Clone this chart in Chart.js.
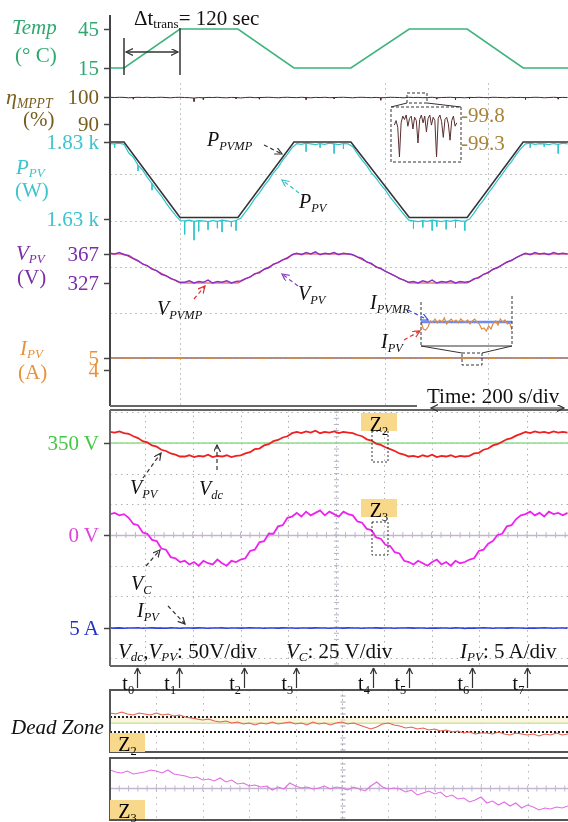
<!DOCTYPE html>
<html>
<head>
<meta charset="utf-8">
<script src="https://cdn.jsdelivr.net/npm/chart.js@4.4.1/dist/chart.umd.min.js"></script>
<style>
body { margin: 0; background: #fff; }
#page { position: relative; width: 568px; height: 822px; overflow: hidden; font-family: "Liberation Serif", "Times New Roman", serif; }
canvas { position: absolute; }
svg { position: absolute; left: 0; top: 0; }
.lb { position: absolute; white-space: nowrap; font-size: 20px; line-height: 1; transform: translateY(-50%); }
.lb.r { transform: translate(-100%, -50%); }
.lb sub, .zb sub { font-size: 0.62em; vertical-align: -0.3em; line-height: 0; }
.it { font-style: italic; }
.zb { position: absolute; background: #f8d98c; font-size: 20px; line-height: 1; text-align: center; padding-top: 1px; box-sizing: border-box; }
</style>
</head>
<body>
<div id="page">
<canvas id="topChart" width="568" height="410" style="left:0;top:0"></canvas>
<canvas id="etaInset" width="130" height="70" style="left:385px;top:100px"></canvas>
<canvas id="iInset" width="110" height="58" style="left:415px;top:295px"></canvas>
<canvas id="scopeChart" width="568" height="290" style="left:0;top:405px"></canvas>
<canvas id="z2Chart" width="568" height="70" style="left:0;top:686px"></canvas>
<canvas id="z3Chart" width="568" height="70" style="left:0;top:754px"></canvas>

<svg width="568" height="822">
  <defs>
    <marker id="aK" markerUnits="userSpaceOnUse" markerWidth="9" markerHeight="9" refX="7" refY="3.5" orient="auto-start-reverse"><path d="M0,0 L7,3.5 L0,7" fill="none" stroke="#333" stroke-width="1.2"/></marker>
    <marker id="aC" markerUnits="userSpaceOnUse" markerWidth="9" markerHeight="9" refX="7" refY="3.5" orient="auto"><path d="M0,0 L7,3.5 L0,7" fill="none" stroke="#33c2cc" stroke-width="1.2"/></marker>
    <marker id="aP" markerUnits="userSpaceOnUse" markerWidth="9" markerHeight="9" refX="7" refY="3.5" orient="auto"><path d="M0,0 L7,3.5 L0,7" fill="none" stroke="#8a3fc0" stroke-width="1.2"/></marker>
    <marker id="aR" markerUnits="userSpaceOnUse" markerWidth="9" markerHeight="9" refX="7" refY="3.5" orient="auto"><path d="M0,0 L7,3.5 L0,7" fill="none" stroke="#e03030" stroke-width="1.2"/></marker>
    <marker id="aB" markerUnits="userSpaceOnUse" markerWidth="9" markerHeight="9" refX="7" refY="3.5" orient="auto"><path d="M0,0 L7,3.5 L0,7" fill="none" stroke="#3050e0" stroke-width="1.2"/></marker>
  </defs>
  <!-- delta t -->
  <g stroke="#333" stroke-width="1.5" fill="none">
    <line x1="124" y1="38" x2="124" y2="75"/>
    <line x1="180" y1="28" x2="180" y2="75"/>
    <line x1="126" y1="52" x2="178" y2="52" marker-start="url(#aK)" marker-end="url(#aK)"/>
  </g>
  <!-- eta zoom -->
  <g stroke="#333" stroke-width="1" fill="none">
    <rect x="407" y="93" width="20" height="10" stroke-dasharray="3 2"/>
    <line x1="407" y1="103" x2="391" y2="107"/>
    <line x1="427" y1="103" x2="461" y2="107"/>
    <rect x="391" y="107" width="70" height="55" stroke-dasharray="3 2"/>
  </g>
  <!-- I zoom -->
  <g stroke="#333" stroke-width="1" fill="none">
    <line x1="421" y1="302" x2="421" y2="346" stroke-dasharray="3 2"/>
    <line x1="512" y1="296" x2="512" y2="346" stroke-dasharray="3 2"/>
    <line x1="421" y1="346" x2="512" y2="346"/>
    <line x1="421" y1="346" x2="462" y2="353"/>
    <line x1="512" y1="346" x2="482" y2="353"/>
    <rect x="462" y="353" width="20" height="12" stroke-dasharray="3 2"/>
  </g>
  <!-- top annotations -->
  <g stroke-width="1.2" fill="none" stroke-dasharray="4 3">
    <line x1="264" y1="145" x2="282" y2="154" stroke="#333" marker-end="url(#aK)"/>
    <line x1="299" y1="193" x2="282" y2="180" stroke="#33c2cc" marker-end="url(#aC)"/>
    <line x1="298" y1="286" x2="282" y2="274" stroke="#8a3fc0" marker-end="url(#aP)"/>
    <line x1="194" y1="299" x2="205" y2="286" stroke="#e03030" marker-end="url(#aR)"/>
    <line x1="408" y1="310" x2="428" y2="320" stroke="#3050e0" marker-end="url(#aB)"/>
    <line x1="404" y1="340" x2="420" y2="331" stroke="#e03030" marker-end="url(#aR)"/>
  </g>
  <line x1="431" y1="408" x2="564" y2="408" stroke="#333" stroke-width="1.2" marker-start="url(#aK)" marker-end="url(#aK)"/>
  <!-- scope annotations -->
  <g stroke="#333" stroke-width="1.2" fill="none" stroke-dasharray="4 3">
    <line x1="143" y1="478" x2="161" y2="453" marker-end="url(#aK)"/>
    <line x1="217" y1="470" x2="217" y2="445" marker-end="url(#aK)"/>
    <line x1="146" y1="566" x2="160" y2="550" marker-end="url(#aK)"/>
    <line x1="168" y1="606" x2="185" y2="624" marker-end="url(#aK)"/>
  </g>
  <g stroke="#333" stroke-width="1" fill="none" stroke-dasharray="2 2">
    <rect x="372" y="431" width="16" height="31"/>
    <rect x="372" y="522" width="16" height="33"/>
  </g>
</svg>

<div class="lb it" style="left:12px;top:27px;color:#2ea86e;font-size:21px">Temp</div>
<div class="lb" style="left:15px;top:55px;color:#2ea86e;font-size:21px">(° C)</div>
<div class="lb it" style="left:6px;top:97px;color:#7a5c1e;font-size:22px">η<sub>MPPT</sub></div>
<div class="lb" style="left:23px;top:119px;color:#7a5c1e;font-size:21px">(%)</div>
<div class="lb it" style="left:16px;top:167px;color:#3cc4cc;font-size:21px">P<sub>PV</sub></div>
<div class="lb" style="left:15px;top:190px;color:#3cc4cc;font-size:21px">(W)</div>
<div class="lb it" style="left:16px;top:253px;color:#7a2fa8;font-size:21px">V<sub>PV</sub></div>
<div class="lb" style="left:17px;top:277px;color:#7a2fa8;font-size:21px">(V)</div>
<div class="lb it" style="left:20px;top:348px;color:#e8923a;font-size:21px">I<sub>PV</sub></div>
<div class="lb" style="left:18px;top:372px;color:#e8923a;font-size:21px">(A)</div>

<div class="lb" style="left:134px;top:18px;color:#111;font-size:21px">Δt<sub>trans</sub>= 120 sec</div>
<div class="lb" style="left:461px;top:115px;color:#a8843a;font-size:21px">-99.8</div>
<div class="lb" style="left:461px;top:143px;color:#a8843a;font-size:21px">-99.3</div>
<div class="lb it" style="left:207px;top:139px;color:#111">P<sub>PVMP</sub></div>
<div class="lb it" style="left:299px;top:201px;color:#111">P<sub>PV</sub></div>
<div class="lb it" style="left:298px;top:293px;color:#111">V<sub>PV</sub></div>
<div class="lb it" style="left:157px;top:308px;color:#111">V<sub>PVMP</sub></div>
<div class="lb it" style="left:370px;top:302px;color:#111">I<sub>PVMR</sub></div>
<div class="lb it" style="left:381px;top:341px;color:#111">I<sub>PV</sub></div>
<div class="lb" style="left:427px;top:396px;color:#111;font-size:21px">Time: 200 s/div</div>

<div class="lb it" style="left:130px;top:487px;color:#111">V<sub>PV</sub></div>
<div class="lb it" style="left:199px;top:488px;color:#111">V<sub>dc</sub></div>
<div class="lb it" style="left:131px;top:583px;color:#111">V<sub>C</sub></div>
<div class="lb it" style="left:137px;top:610px;color:#111">I<sub>PV</sub></div>
<div class="lb" style="left:118px;top:651px;color:#111;font-size:21px"><i>V<sub>dc</sub></i>,<i>V<sub>PV</sub></i>: 50V/div</div>
<div class="lb" style="left:286px;top:651px;color:#111;font-size:21px"><i>V<sub>C</sub></i>: 25 V/div</div>
<div class="lb" style="left:460px;top:651px;color:#111;font-size:21px"><i>I<sub>PV</sub></i>: 5 A/div</div>
<div class="zb" style="left:361px;top:413px;width:36px;height:18px">Z<sub>2</sub></div>
<div class="zb" style="left:361px;top:499px;width:36px;height:18px">Z<sub>3</sub></div>

<div class="lb it" style="left:11px;top:727px;color:#111;font-size:21px">Dead Zone</div>
<div class="zb" style="left:110px;top:733px;width:35px;height:19px">Z<sub>2</sub></div>
<div class="zb" style="left:110px;top:800px;width:35px;height:19px">Z<sub>3</sub></div>
</div>

<script>
/* ================= DATA ================= */
var STEP = 10;          // s between samples of the recorded traces
var TIME_END = 981;     // s shown across the top panel and scope

// temperature profile and its MPP references (corner points)
var profileT = [0, 30, 150, 274, 394, 516, 641, 765, 885, 981];
var tempV = [15, 15, 45, 45, 15, 15, 45, 45, 15, 15];
var pmpV = [1830, 1830, 1634, 1634, 1830, 1830, 1634, 1634, 1830, 1830];
var vmpV = [367, 367, 327, 327, 367, 367, 327, 327, 367, 367];

// tracking efficiency (%) every 10 s, plus its dips
var etaV = [99.9, 99.8, 99.9, 99.85, 99.7, 99.8, 99.9, 99.8, 99.9, 99.75,
    99.85, 99.9, 99.8, 99.7, 99.85, 99.9, 99.8, 99.75, 99.6, 99.8,
    99.7, 99.85, 99.8, 99.9, 99.75, 99.7, 99.85, 99.8, 99.65, 99.8,
    99.9, 99.75, 99.8, 99.85, 99.9, 99.8, 99.7, 99.85, 99.9, 99.8,
    99.75, 99.9, 99.8, 99.7, 99.85, 99.8, 99.9, 99.75, 99.8, 99.85,
    99.9, 99.8, 99.7, 99.85, 99.9, 99.8, 99.75, 99.85, 99.7, 99.8,
    99.9, 99.85, 99.8, 99.7, 99.9, 99.8, 99.85, 99.75, 99.8, 99.9,
    99.7, 99.8, 99.85, 99.9, 99.75, 99.8, 99.7, 99.85, 99.8, 99.9,
    99.8, 99.75, 99.9, 99.85, 99.8, 99.7, 99.9, 99.8, 99.85, 99.75,
    99.8, 99.9, 99.85, 99.7, 99.8, 99.9, 99.8, 99.85, 99.8];
var etaDipT = [50, 180, 200, 270, 320, 420, 480, 580, 700, 740, 770, 890, 960];
var etaDipV = [99.2, 98.3, 99.0, 99.3, 99.2, 99.0, 99.3, 98.8, 99.2, 99.0, 99.3, 99.1, 99.2];

// PV power (W) every 10 s, plus its dips
var ppvV = [1826, 1825, 1827, 1824,
    1802, 1790, 1770, 1757, 1738, 1722, 1705, 1690, 1672, 1655, 1640, 1626,
    1625, 1627, 1624, 1626, 1625, 1623, 1626, 1624, 1627, 1625, 1623, 1626,
    1632, 1648, 1664, 1683, 1698, 1716, 1731, 1750, 1764, 1783, 1798, 1815,
    1826, 1824, 1827, 1825, 1823, 1826, 1824, 1827, 1825, 1823, 1826, 1825,
    1818, 1800, 1783, 1768, 1750, 1736, 1719, 1705, 1687, 1672, 1656, 1641, 1627,
    1625, 1623, 1626, 1624, 1627, 1625, 1623, 1626, 1624, 1627, 1625, 1624,
    1630, 1646, 1664, 1679, 1697, 1713, 1730, 1746, 1764, 1779, 1797, 1813,
    1825, 1827, 1824, 1826, 1825, 1823, 1826, 1824, 1827, 1825];
var ppvDipT = [10, 60, 90, 160, 180, 190, 210, 230, 240, 260, 270, 420, 450, 480, 500, 650, 670, 690, 700, 720, 740, 760, 900, 930, 960];
var ppvDipV = [1815, 1755, 1705, 1590, 1575, 1598, 1602, 1606, 1596, 1610, 1600, 1805, 1815, 1800, 1812, 1605, 1608, 1600, 1610, 1603, 1607, 1600, 1815, 1818, 1800];

// PV voltage (V) every 10 s
var vpvV = [368, 367, 369, 366,
    365, 361, 358, 353, 351, 346, 344, 339, 337, 333, 331, 328,
    328, 330, 327, 329, 328, 331, 327, 329, 328, 330, 327, 329,
    330, 333, 335, 340, 341, 346, 348, 353, 355, 359, 361, 366,
    368, 366, 369, 367, 370, 366, 368, 367, 369, 366, 368, 367,
    366, 363, 361, 356, 354, 349, 347, 343, 340, 337, 333, 331, 328,
    329, 327, 330, 328, 331, 327, 329, 328, 330, 327, 329, 328,
    329, 333, 334, 339, 341, 346, 348, 352, 356, 358, 362, 365,
    368, 366, 369, 367, 368, 366, 369, 367, 368, 367];

// PV current (A) every 10 s
var ipvV = [5.0, 4.98, 5.02, 4.97, 5.01, 4.99, 5.03, 4.96, 5.0, 5.02,
    4.98, 5.01, 4.97, 5.02, 4.99, 4.95, 5.01, 5.0, 4.98, 5.02,
    5.0, 4.97, 5.01, 4.99, 5.02, 4.96, 5.0, 5.01, 4.98, 5.0,
    5.02, 4.99, 5.0, 4.97, 5.01, 5.0, 4.98, 5.02, 4.99, 5.0,
    4.97, 5.01, 5.0, 4.98, 5.02, 4.99, 5.0, 4.96, 5.01, 5.0,
    4.98, 5.02, 4.99, 5.0, 4.97, 5.01, 4.99, 5.02, 4.98, 5.0,
    5.01, 4.97, 5.0, 4.99, 5.02, 4.98, 5.0, 5.01, 4.96, 5.0,
    4.98, 5.01, 4.99, 4.97, 5.02, 5.0, 4.94, 5.01, 4.98, 5.0,
    5.02, 4.99, 4.97, 5.01, 5.0, 4.98, 5.02, 4.99, 5.0, 4.97,
    5.01, 4.98, 5.0, 5.02, 4.99, 4.96, 5.01, 5.0, 4.98];
var ipvRef = 5;

// capacitor voltage (V) every 10 s, dc link reference
var vcV = [17, 18, 16, 17,
    14, 9, 8, 2, 1, -4, -5, -11, -12, -18, -19, -22,
    -21, -24, -22, -25, -21, -23, -24, -20, -23, -25, -21, -22,
    -20, -19, -13, -12, -6, -5, 1, 1, 7, 8, 14, 15,
    18, 15, 19, 16, 18, 20, 16, 19, 17, 15, 19, 17,
    16, 11, 10, 5, 4, -2, -3, -8, -9, -14, -15, -21, -22,
    -24, -21, -23, -25, -22, -20, -24, -22, -25, -21, -23, -22,
    -20, -19, -13, -12, -7, -5, 0, 1, 7, 8, 13, 16,
    17, 19, 16, 18, 15, 19, 17, 18, 16, 18];
var vdcRef = 350;

// zoomed windows
var etaZoom = [99.62, 99.70, 99.58, 99.05, 99.66, 99.78, 99.72, 99.80, 99.60, 99.74,
    99.78, 99.55, 99.76, 99.70, 99.30, 99.72, 99.80, 99.66, 99.78, 99.50,
    99.74, 99.80, 99.62, 99.76, 99.70, 99.05, 99.74, 99.80, 99.68, 99.40,
    99.72, 99.76, 99.64, 99.35, 99.70, 99.78, 99.60, 99.66];
var ipvZoom = [5.00, 4.93, 4.92, 4.95, 5.01, 5.00, 5.03, 4.99, 5.02, 5.00,
    5.04, 4.98, 5.01, 5.03, 5.00, 5.02, 4.99, 5.03, 5.01, 5.00,
    5.02, 4.98, 5.01, 5.03, 5.00, 4.98, 4.93, 4.94, 4.91, 4.96,
    4.93, 4.99, 5.01, 4.97, 5.03, 5.00, 5.02, 4.98, 4.99, 4.92];
var z2V = [360, 359, 361, 359, 358, 360, 359, 358, 360, 358, 359, 357, 358,
    356, 355, 354, 353, 354, 352, 351, 352, 350,
    351, 349, 350, 348, 350, 349, 351, 349, 350,
    351, 349, 350, 348, 351, 349, 350, 348, 350, 351, 349, 350, 348,
    346, 344, 346, 349, 350,
    348, 347, 345, 346, 344, 345, 343, 344, 342,
    343, 341, 342, 340, 341, 339, 340,
    340, 339, 341, 339, 338, 340, 339, 338, 339, 337, 339, 338, 340, 338, 339];
var deadZone = [356, 341];
var z3V = [18, 16, 15, 17, 14, 15, 16, 18, 17, 15, 18, 14, 13, 12, 10, 11, 8, 9, 7, 10,
    6, 8, 4, 5, 2, 3, 1, 2, -2, 1, -1, 5, 2, 0, 1, -1, 0, 2, -1, 1,
    0, -2, 1, -1, -3, 2, 6, 1, -1, 0, -1, -4, -2, -7, -5, -3, -6, -4, -9, -7,
    -11, -10, -14, -12, -9, -15, -13, -17, -14, -18, -15, -20, -17, -19, -22, -20, -21, -19, -20, -18];

// event instants t0..t7 (s)
var tMarks = [58, 148, 287, 399, 563, 641, 776, 894];

// tick labels
var tempTicks = [45, 15];
var etaTicks = [100, 90];
var pTicks = [1830, 1630], pTickText = ["1.83 k", "1.63 k"];
var vTicks = [367, 327];
var iTicks = [5, 4];

/* ================= LAYOUT / STYLE ================= */
var TOP_GRID_T = [150, 589, 810];
var TOP_GRID_Y = [174, 221, 267, 313, 358];
var SCOPE_CX = 336, SCOPE_DX = 47.75, SCOPE_DY = 30.7;
var Z_DX = 46.4;

/* ================= HELPERS ================= */
function xy(vals, step) {
    return vals.map(function (v, i) { return { x: i * step, y: v }; });
}
function zip(xs, ys) {
    return xs.map(function (x, i) { return { x: x, y: ys[i] }; });
}
function spikes(ts, lows, base) {
    var out = [];
    ts.forEach(function (t, i) {
        out.push({ x: t, y: base[t / STEP] }, { x: t, y: lows[i] }, { x: t, y: null });
    });
    return out;
}
function flat(v, x0, x1) { return [{ x: x0, y: v }, { x: x1, y: v }]; }
// axis range so that value v1 sits at page pixel p1 and v2 at p2
function span(v1, p1, v2, p2, top, bottom) {
    var k = (p2 - p1) / (v2 - v1);
    return { type: "linear", display: false, min: v1 + (bottom - p1) / k, max: v1 + (top - p1) / k };
}
function xr(min, max) { return { type: "linear", display: false, min: min, max: max }; }
function ds(data, color, width, axis, extra) {
    var d = { data: data, borderColor: color, borderWidth: width, yAxisID: axis, pointRadius: 0, fill: false, tension: 0, spanGaps: false };
    if (extra) for (var k in extra) d[k] = extra[k];
    return d;
}
function opts(padding, scales) {
    return {
        responsive: false, animation: false, events: [],
        layout: { padding: padding },
        plugins: { legend: { display: false }, tooltip: { enabled: false } },
        scales: scales
    };
}
function seg(c, x1, y1, x2, y2) {
    c.beginPath(); c.moveTo(x1, y1); c.lineTo(x2, y2); c.stroke();
}
var page = document.getElementById("page");
function putText(html, x, y, color, cls, size) {
    var d = document.createElement("div");
    d.className = "lb " + (cls || "");
    d.style.left = x + "px";
    d.style.top = y + "px";
    d.style.color = color;
    if (size) d.style.fontSize = size + "px";
    d.innerHTML = html;
    page.appendChild(d);
}

/* ================= TOP PANEL ================= */
var topTickSets = [
    { axis: "yT", v: tempTicks }, { axis: "yE", v: etaTicks }, { axis: "yP", v: pTicks },
    { axis: "yV", v: vTicks }, { axis: "yI", v: iTicks }
];
var topDecor = {
    id: "topDecor",
    beforeDatasetsDraw: function (chart) {
        var c = chart.ctx, a = chart.chartArea, x = chart.scales.x;
        c.save();
        c.strokeStyle = "#c4c4c4"; c.lineWidth = 1; c.setLineDash([2, 3]);
        TOP_GRID_T.forEach(function (t) {
            var px = Math.round(x.getPixelForValue(t)) + 0.5;
            seg(c, px, 83, px, a.bottom);
        });
        TOP_GRID_Y.forEach(function (py) { seg(c, a.left, py + 0.5, a.right, py + 0.5); });
        c.restore();
    },
    afterDraw: function (chart) {
        var c = chart.ctx, a = chart.chartArea;
        c.save();
        c.strokeStyle = "#444"; c.lineWidth = 2;
        seg(c, a.left, a.top, a.left, a.bottom);
        c.strokeStyle = "#666";
        seg(c, a.left, a.bottom, 417, a.bottom);
        c.lineWidth = 1.5; c.strokeStyle = "#444";
        topTickSets.forEach(function (s) {
            s.v.forEach(function (v) {
                var py = Math.round(chart.scales[s.axis].getPixelForValue(v)) + 0.5;
                seg(c, a.left - 6, py, a.left, py);
            });
        });
        c.restore();
    }
};
var TOP = { top: 15, bottom: 406 };
var topChart = new Chart(document.getElementById("topChart"), {
    type: "line",
    data: {
        datasets: [
            ds(zip(profileT, tempV), "#3db37d", 1.6, "yT"),
            ds(spikes(etaDipT, etaDipV, etaV), "#4a2424", 1, "yE"),
            ds(xy(etaV, STEP), "#4a2424", 1, "yE"),
            ds(zip(profileT, pmpV), "#333333", 1.6, "yP"),
            ds(spikes(ppvDipT, ppvDipV, ppvV), "#2ec4cc", 1, "yP"),
            ds(xy(ppvV, STEP), "#2ec4cc", 1.2, "yP"),
            ds(xy(vpvV, STEP), "#8a2fc8", 1.4, "yV"),
            ds(zip(profileT, vmpV), "#e23a3a", 1.2, "yV"),
            ds(xy(ipvV, STEP), "#e38a30", 1.2, "yI"),
            ds(flat(ipvRef, 0, TIME_END), "#4a6ef0", 1.6, "yI")
        ]
    },
    options: opts({ left: 110, top: 15, right: 0, bottom: 4 }, {
        x: xr(0, TIME_END),
        yT: span(15, 68, 45, 29, TOP.top, TOP.bottom),
        yE: span(100, 97, 90, 124, TOP.top, TOP.bottom),
        yP: span(1830, 142, 1630, 219, TOP.top, TOP.bottom),
        yV: span(367, 254, 327, 283, TOP.top, TOP.bottom),
        yI: span(5, 358, 4, 370, TOP.top, TOP.bottom)
    }),
    plugins: [topDecor]
});

/* ================= INSETS ================= */
new Chart(document.getElementById("etaInset"), {
    type: "line",
    data: { datasets: [ds(xy(etaZoom, 1), "#5a2e2e", 1, "y")] },
    options: opts({ left: 6, top: 7, right: 54, bottom: 8 }, {
        x: xr(-2, 39.5),
        y: span(99.8, 115, 99.3, 143, 107, 162)
    })
});
new Chart(document.getElementById("iInset"), {
    type: "line",
    data: {
        datasets: [
            ds(xy(ipvZoom, 1), "#e08a3a", 1.2, "y"),
            ds(flat(ipvRef, 0, ipvZoom.length - 1), "#6a8cf2", 2.5, "y")
        ]
    },
    options: opts({ left: 6, top: 7, right: 13, bottom: 7 }, {
        x: xr(0, ipvZoom.length - 1),
        y: span(5, 322, 5.1, 312, 302, 346)
    })
});

/* ================= SCOPE ================= */
var scopeDecor = {
    id: "scopeDecor",
    beforeDatasetsDraw: function (chart) {
        var c = chart.ctx, a = chart.chartArea;
        var cy = chart.scales.yC.getPixelForValue(0);
        c.save();
        c.strokeStyle = "#b0b0b0"; c.lineWidth = 1; c.setLineDash([1.5, 4]);
        for (var k = -5; k <= 5; k++) {
            var px = Math.round(SCOPE_CX + k * SCOPE_DX) + 0.5;
            if (px > a.left + 2 && px < a.right && k !== 0) seg(c, px, a.top, px, a.bottom);
        }
        for (var j = -4; j <= 4; j++) {
            var py = Math.round(cy + j * SCOPE_DY) + 0.5;
            if (py > a.top + 2 && py < a.bottom - 2 && j !== 0) seg(c, a.left, py, a.right, py);
        }
        // centre cross with minor ticks
        c.setLineDash([]);
        c.strokeStyle = "#c2b6d0"; c.lineWidth = 1.5;
        seg(c, a.left, Math.round(cy) + 0.5, a.right, Math.round(cy) + 0.5);
        c.lineWidth = 1;
        for (var m = -30; m <= 30; m++) {
            var tx = SCOPE_CX + m * SCOPE_DX / 5;
            if (tx > a.left && tx < a.right) seg(c, tx, cy - 3, tx, cy + 3);
        }
        c.strokeStyle = "#b4b4c0"; c.setLineDash([1.5, 3]);
        seg(c, SCOPE_CX + 0.5, a.top, SCOPE_CX + 0.5, a.bottom);
        c.setLineDash([]);
        for (var n = -25; n <= 25; n++) {
            var ty = cy + n * SCOPE_DY / 5;
            if (ty > a.top && ty < a.bottom) seg(c, SCOPE_CX - 2, ty, SCOPE_CX + 3, ty);
        }
        c.restore();
    },
    afterDraw: function (chart) {
        var c = chart.ctx, a = chart.chartArea, x = chart.scales.x;
        c.save();
        c.strokeStyle = "#666"; c.lineWidth = 2;
        seg(c, a.left, a.top, a.right, a.top);
        seg(c, a.left, a.bottom, a.right, a.bottom);
        seg(c, a.left, a.top, a.left, a.bottom);
        c.lineWidth = 1.5; c.strokeStyle = "#444";
        [["yD", vdcRef], ["yC", 0], ["yA", ipvRef]].forEach(function (p) {
            var py = Math.round(chart.scales[p[0]].getPixelForValue(p[1])) + 0.5;
            seg(c, a.left - 6, py, a.left, py);
        });
        c.strokeStyle = "#333"; c.lineWidth = 1.2;
        tMarks.forEach(function (t) {
            var px = Math.round(x.getPixelForValue(t)) + 0.5;
            seg(c, px, a.bottom + 22, px, a.bottom + 2);
            seg(c, px - 3, a.bottom + 8, px, a.bottom + 2);
            seg(c, px + 3, a.bottom + 8, px, a.bottom + 2);
        });
        c.restore();
    }
};
var SCOPE = { top: 410, bottom: 666 };
var scopeChart = new Chart(document.getElementById("scopeChart"), {
    type: "line",
    data: {
        datasets: [
            ds(xy(vpvV, STEP), "#ee2020", 1.8, "yD"),
            ds(flat(vdcRef, 0, TIME_END), "#8fdc8f", 1.6, "yD"),
            ds(xy(vcV, STEP), "#ee22ee", 1.8, "yC"),
            ds(xy(ipvV, STEP), "#2f3fdc", 1.6, "yA")
        ]
    },
    options: opts({ left: 110, top: 5, right: 0, bottom: 29 }, {
        x: xr(0, TIME_END),
        yD: span(350, 443, 400, 443 - SCOPE_DY, SCOPE.top, SCOPE.bottom),
        yC: span(0, 535, 25, 535 - SCOPE_DY, SCOPE.top, SCOPE.bottom),
        yA: span(5, 628, 10, 628 - SCOPE_DY, SCOPE.top, SCOPE.bottom)
    }),
    plugins: [scopeDecor]
});

/* ================= ZOOM WINDOWS ================= */
function zoomDecor(centreAxis) {
    return {
        id: "zoomDecor",
        beforeDatasetsDraw: function (chart) {
            var c = chart.ctx, a = chart.chartArea;
            c.save();
            c.strokeStyle = "#b8b8b8"; c.lineWidth = 1; c.setLineDash([1.5, 5]);
            for (var k = 1; k < 10; k++) {
                var px = Math.round(a.left + k * Z_DX) + 0.5;
                if (k !== 5) seg(c, px, a.top, px, a.bottom);
            }
            c.strokeStyle = "#a4a4b0"; c.setLineDash([1.5, 3]);
            var cx = Math.round(a.left + 5 * Z_DX) + 0.5;
            seg(c, cx, a.top, cx, a.bottom);
            c.setLineDash([]);
            for (var y = a.top + 6; y < a.bottom; y += 6) seg(c, cx - 2, y, cx + 3, y);
            if (centreAxis) {
                var cy = Math.round(chart.scales.y.getPixelForValue(0)) + 0.5;
                c.strokeStyle = "#c2b6d0"; c.lineWidth = 1.5;
                seg(c, a.left, cy, a.right, cy);
                c.lineWidth = 1;
                for (var x = a.left + Z_DX / 5; x < a.right; x += Z_DX / 5) seg(c, x, cy - 3, x, cy + 3);
            }
            c.restore();
        },
        afterDraw: function (chart) {
            var c = chart.ctx, a = chart.chartArea;
            c.save();
            c.strokeStyle = "#555"; c.lineWidth = 2;
            c.strokeRect(a.left, a.top, a.right - a.left + 4, a.bottom - a.top);
            c.restore();
        }
    };
}
var zLast = z2V.length - 1;
new Chart(document.getElementById("z2Chart"), {
    type: "line",
    data: {
        datasets: [
            ds(xy(z2V, 1), "#e8604e", 1.1, "y"),
            ds(flat(deadZone[0], 0, zLast), "#222", 2, "y", { borderDash: [2, 2], fill: "+1", backgroundColor: "rgba(250,236,196,0.6)" }),
            ds(flat(vdcRef, 0, zLast), "#a6e6a0", 1.5, "y"),
            ds(flat(deadZone[1], 0, zLast), "#222", 2, "y", { borderDash: [2, 2] })
        ]
    },
    options: opts({ left: 110, top: 4, right: 0, bottom: 4 }, {
        x: xr(0, zLast),
        y: span(350, 723, 360, 713, 690, 752)
    }),
    plugins: [zoomDecor(false)]
});
new Chart(document.getElementById("z3Chart"), {
    type: "line",
    data: { datasets: [ds(xy(z3V, 1), "#e46ee4", 1.1, "y")] },
    options: opts({ left: 110, top: 4, right: 0, bottom: 4 }, {
        x: xr(0, z3V.length - 1),
        y: span(0, 788, 10, 778, 758, 820)
    }),
    plugins: [zoomDecor(true)]
});

/* ================= TICK LABELS ================= */
function topLabel(axis, vals, texts, color) {
    vals.forEach(function (v, i) {
        var py = topChart.scales[axis].getPixelForValue(v);
        putText(texts ? texts[i] : String(v), 99, py, color, "r", 21);
    });
}
topLabel("yT", tempTicks, null, "#2ea86e");
topLabel("yE", etaTicks, null, "#7a5c1e");
topLabel("yP", pTicks, pTickText, "#3cc4cc");
topLabel("yV", vTicks, null, "#7a2fa8");
topLabel("yI", iTicks, null, "#e8923a");

var scopeTop = 405;
putText(vdcRef + " V", 99, scopeTop + scopeChart.scales.yD.getPixelForValue(vdcRef), "#44c844", "r", 21);
putText("0 V", 99, scopeTop + scopeChart.scales.yC.getPixelForValue(0), "#dd44dd", "r", 21);
putText(ipvRef + " A", 99, scopeTop + scopeChart.scales.yA.getPixelForValue(ipvRef), "#2233cc", "r", 21);
tMarks.forEach(function (t, i) {
    var px = scopeChart.scales.x.getPixelForValue(t);
    putText("t<sub>" + i + "</sub>", px - 3, 683, "#111", "r", 20);
});
</script>
</body>
</html>
